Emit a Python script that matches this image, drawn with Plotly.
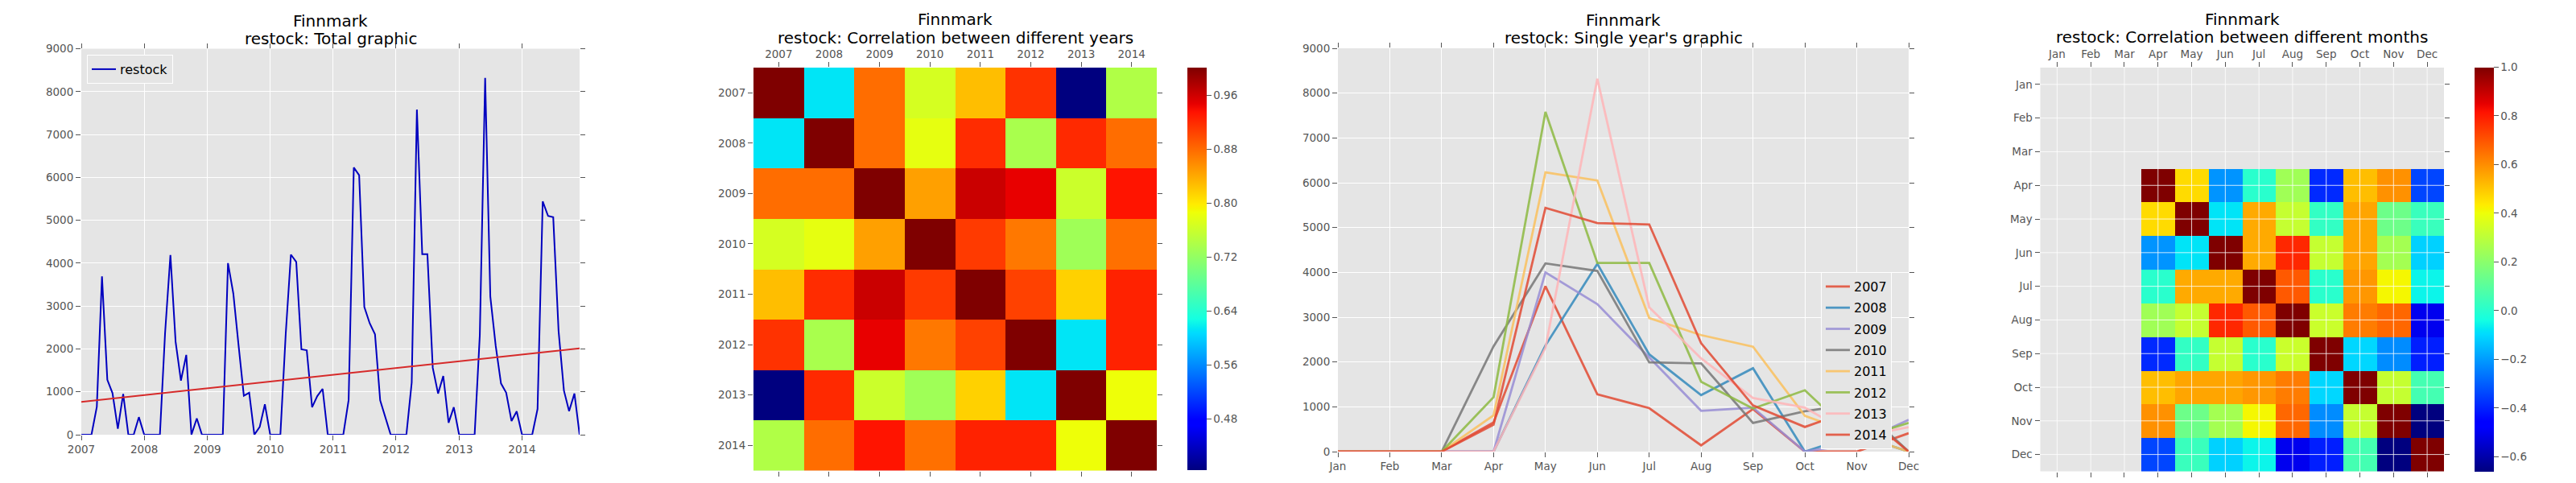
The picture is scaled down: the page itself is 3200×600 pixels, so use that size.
import numpy as np
import plotly.graph_objects as go

# ---------- data ----------
years = ["2007", "2008", "2009", "2010", "2011", "2012", "2013", "2014"]
months = ["Jan", "Feb", "Mar", "Apr", "May", "Jun", "Jul", "Aug", "Sep", "Oct", "Nov", "Dec"]

restock_2007 = [0, 0, 0, 650, 3690, 1280, 970, 140, 950, 0, 0, 410]
restock_2008 = [0, 0, 0, 0, 2370, 4190, 2170, 1260, 1860, 0, 380, 0]
restock_2009 = [0, 0, 0, 0, 4000, 3290, 2100, 910, 980, 0, 180, 710]
restock_2010 = [0, 0, 0, 2350, 4200, 4030, 1990, 1970, 640, 900, 1070, 0]
restock_2011 = [0, 0, 0, 810, 6230, 6050, 2980, 2600, 2340, 800, 380, 0]
restock_2012 = [0, 0, 0, 1215, 7580, 4210, 4210, 1560, 960, 1370, 280, 640]
restock_2013 = [0, 0, 0, 0, 2320, 8320, 3220, 2080, 1195, 980, 320, 545]
restock_2014 = [0, 0, 0, 600, 5440, 5100, 5070, 2420, 1030, 550, 960, 0]
by_year = [restock_2007, restock_2008, restock_2009, restock_2010,
           restock_2011, restock_2012, restock_2013, restock_2014]

trend_dates = ["2007-01-01", "2014-12-01"]
trend_values = [765, 2015]

year_corr = [
    [1.000, 0.612, 0.877, 0.767, 0.826, 0.914, 0.403, 0.740],
    [0.612, 1.000, 0.877, 0.779, 0.918, 0.735, 0.920, 0.877],
    [0.877, 0.877, 1.000, 0.845, 0.961, 0.946, 0.760, 0.933],
    [0.767, 0.779, 0.845, 1.000, 0.909, 0.870, 0.728, 0.875],
    [0.826, 0.918, 0.961, 0.909, 1.000, 0.905, 0.814, 0.924],
    [0.914, 0.735, 0.946, 0.870, 0.905, 1.000, 0.612, 0.924],
    [0.403, 0.920, 0.760, 0.728, 0.814, 0.612, 1.000, 0.785],
    [0.740, 0.877, 0.933, 0.875, 0.924, 0.924, 0.785, 1.000],
]

N = None
month_corr = [
    [N, N, N, N, N, N, N, N, N, N, N, N],
    [N, N, N, N, N, N, N, N, N, N, N, N],
    [N, N, N, N, N, N, N, N, N, N, N, N],
    [N, N, N, 1.000, 0.466, -0.212, 0.004, 0.245, -0.386, 0.517, 0.595, -0.340],
    [N, N, N, 0.466, 1.000, -0.080, 0.552, 0.320, 0.024, 0.560, 0.142, 0.037],
    [N, N, N, -0.212, -0.080, 1.000, 0.552, 0.780, 0.320, 0.560, 0.253, -0.112],
    [N, N, N, 0.004, 0.552, 0.552, 1.000, 0.693, 0.004, 0.585, 0.416, -0.054],
    [N, N, N, 0.245, 0.320, 0.780, 0.693, 1.000, 0.330, 0.632, 0.668, -0.500],
    [N, N, N, -0.386, 0.024, 0.320, 0.004, 0.330, 1.000, -0.102, -0.225, -0.403],
    [N, N, N, 0.517, 0.560, 0.560, 0.585, 0.632, -0.102, 1.000, 0.320, 0.060],
    [N, N, N, 0.595, 0.142, 0.253, 0.416, 0.668, -0.225, 0.320, 1.000, -0.660],
    [N, N, N, -0.340, 0.037, -0.112, -0.054, -0.500, -0.403, 0.060, -0.660, 1.000],
]

region = "Finnmark"
panel_titles = ["restock: Total graphic",
                "restock: Correlation between different years",
                "restock: Single year's graphic",
                "restock: Correlation between different months"]
year_colorbar_ticks = [0.48, 0.56, 0.64, 0.72, 0.80, 0.88, 0.96]
month_colorbar_ticks = [-0.6, -0.4, -0.2, 0.0, 0.2, 0.4, 0.6, 0.8, 1.0]
line_ticks = [0, 1000, 2000, 3000, 4000, 5000, 6000, 7000, 8000, 9000]

# ---------- styles / geometry ----------
W, H = 3200, 600
FONT = "DejaVu Sans"
GREY = "#555555"
BG = "#E5E5E5"
TICK_SIZE = 13.5
cycle = ["#E24A33", "#348ABD", "#988ED5", "#777777", "#FBC15E", "#8EBA42", "#FFB5B8", "#E24A33"]


def fx(p):
    return p / W


def fy(p):
    return 1 - p / H


def mpl_jet():
    stops = sorted({0, .11, .125, .34, .35, .375, .64, .65, .66, .89, .91, 1})
    r = np.interp(stops, [0, .35, .66, .89, 1], [0, 0, 1, 1, .5])
    g = np.interp(stops, [0, .125, .375, .64, .91, 1], [0, 0, 1, 1, 0, 0])
    b = np.interp(stops, [0, .11, .34, .65, 1], [.5, 1, 1, 0, 0])
    return [[s, f"rgb({int(255*a)},{int(255*c)},{int(255*d)})"] for s, a, c, d in zip(stops, r, g, b)]


JET = mpl_jet()
dates = [f"{y}-{m:02d}-01" for y in years for m in range(1, 13)]
series = [v for year in by_year for v in year]

fig = go.Figure()

# panel 1
fig.add_trace(go.Scatter(x=dates, y=series, mode="lines", name="restock",
                         line=dict(color="#0000BF", width=2), xaxis="x", yaxis="y", legend="legend"))
fig.add_trace(go.Scatter(x=trend_dates, y=trend_values, mode="lines", showlegend=False,
                         line=dict(color="#D62A2A", width=2), xaxis="x", yaxis="y"))

# panel 2
fig.add_trace(go.Heatmap(z=year_corr, x=years, y=years, colorscale=JET, zmin=0.403, zmax=1.0,
                         xaxis="x2", yaxis="y2",
                         colorbar=dict(x=fx(1475), xanchor="left", xref="paper", thickness=24, thicknessmode="pixels",
                                       xpad=0, ypad=0,
                                       y=fy(584.5), yanchor="bottom", len=500.5 / H, lenmode="fraction",
                                       outlinewidth=0, tickmode="array", tickvals=year_colorbar_ticks,
                                       ticktext=[f"{v:.2f}" for v in year_colorbar_ticks],
                                       ticks="outside", ticklen=6, tickcolor=GREY,
                                       tickfont=dict(family=FONT, size=TICK_SIZE, color=GREY))))

# panel 3
for i, year in enumerate(years):
    fig.add_trace(go.Scatter(x=months, y=by_year[i], mode="lines", name=year, opacity=0.85,
                             line=dict(color=cycle[i], width=2.8), xaxis="x3", yaxis="y3",
                             legend="legend2", legendgroup=year))

# panel 4
fig.add_trace(go.Heatmap(z=month_corr, x=months, y=months, colorscale=JET, zmin=-0.66, zmax=1.0,
                         xaxis="x4", yaxis="y4", hoverongaps=False,
                         colorbar=dict(x=fx(3074), xanchor="left", xref="paper", thickness=24, thicknessmode="pixels",
                                       xpad=0, ypad=0,
                                       y=fy(585.5), yanchor="bottom", len=501.5 / H, lenmode="fraction",
                                       outlinewidth=0, tickmode="array", tickvals=month_colorbar_ticks,
                                       ticktext=[f"{v:.1f}".replace("-", "\u2212") for v in month_colorbar_ticks],
                                       ticks="outside", ticklen=6, tickcolor=GREY,
                                       tickfont=dict(family=FONT, size=TICK_SIZE, color=GREY))))


def axis(domain, **kw):
    base = dict(domain=domain, showline=False, zeroline=False, ticks="outside", ticklen=6, tickwidth=1,
                tickcolor=GREY, mirror="ticks", gridcolor="white", gridwidth=1, automargin=False,
                tickfont=dict(family=FONT, size=TICK_SIZE, color=GREY), tickangle=0)
    base.update(kw)
    return base


layout = dict(
    width=W, height=H, margin=dict(l=0, r=0, t=0, b=0), autosize=False,
    paper_bgcolor="white", plot_bgcolor=BG, font=dict(family=FONT, color="black"),
    xaxis=axis([fx(101), fx(720)], anchor="y", type="date", range=["2007-01-01", "2014-12-01"],
               dtick="M12", tick0="2007-01-01", tickformat="%Y"),
    yaxis=axis([fy(540), fy(60.5)], anchor="x", range=[0, 9000], tickvals=line_ticks),
    xaxis2=axis([fx(936), fx(1437)], anchor="y2", side="top", type="category", categoryorder="array",
                categoryarray=years, range=[-0.5, 7.5], showgrid=False),
    yaxis2=axis([fy(584.5), fy(84)], anchor="x2", type="category", categoryorder="array",
                categoryarray=years, range=[7.5, -0.5], showgrid=False),
    xaxis3=axis([fx(1662), fx(2371)], anchor="y3", type="category", categoryorder="array",
                categoryarray=months, range=[0, 11]),
    yaxis3=axis([fy(561), fy(60)], anchor="x3", range=[0, 9000], tickvals=line_ticks),
    xaxis4=axis([fx(2534.5), fx(3036)], anchor="y4", side="top", type="category", categoryorder="array",
                categoryarray=months, range=[-0.5, 11.5], showgrid=False),
    yaxis4=axis([fy(585.5), fy(84)], anchor="x4", type="category", categoryorder="array",
                categoryarray=months, range=[11.5, -0.5], showgrid=False),
    legend=dict(x=fx(108), y=fy(68), xanchor="left", yanchor="top", bgcolor=BG, bordercolor="white",
                borderwidth=1, font=dict(family=FONT, size=16, color="black"), itemwidth=30,
                entrywidth=82, entrywidthmode="pixels"),
    legend2=dict(x=fx(2262), y=fy(338), xanchor="left", yanchor="top", bgcolor=BG, bordercolor="white",
                 borderwidth=1, font=dict(family=FONT, size=16, color="black"), itemwidth=30,
                 entrywidth=65, entrywidthmode="pixels", tracegroupgap=2.5),
    showlegend=True,
)

# grid lines drawn above the heat maps, as in the reference
shapes = []
for xa, ya, cats in (("x2", "y2", years), ("x4", "y4", months)):
    for c in cats:
        shapes.append(dict(type="line", xref=xa, yref=f"{ya} domain", x0=c, x1=c, y0=0, y1=1, layer="above",
                           line=dict(color="rgba(255,255,255,0.8)", width=1)))
        shapes.append(dict(type="line", xref=f"{xa} domain", yref=ya, x0=0, x1=1, y0=c, y1=c, layer="above",
                           line=dict(color="rgba(255,255,255,0.8)", width=1)))
layout["shapes"] = shapes

annotations = []
for cx, title, y1, y2 in ((410.5, panel_titles[0], 26, 48), (1186.5, panel_titles[1], 24.5, 46.5),
                          (2016.5, panel_titles[2], 25, 46.5), (2785, panel_titles[3], 24, 46)):
    for text, py in ((region, y1), (title, y2)):
        annotations.append(dict(text=text, x=fx(cx), y=fy(py), xref="paper", yref="paper", showarrow=False,
                                xanchor="center", yanchor="middle",
                                font=dict(family=FONT, size=20, color="black")))
layout["annotations"] = annotations

fig.update_layout(**layout)
fig.write_html("out.html", post_script="document.body.style.margin='0';",
               config={"displayModeBar": False})
